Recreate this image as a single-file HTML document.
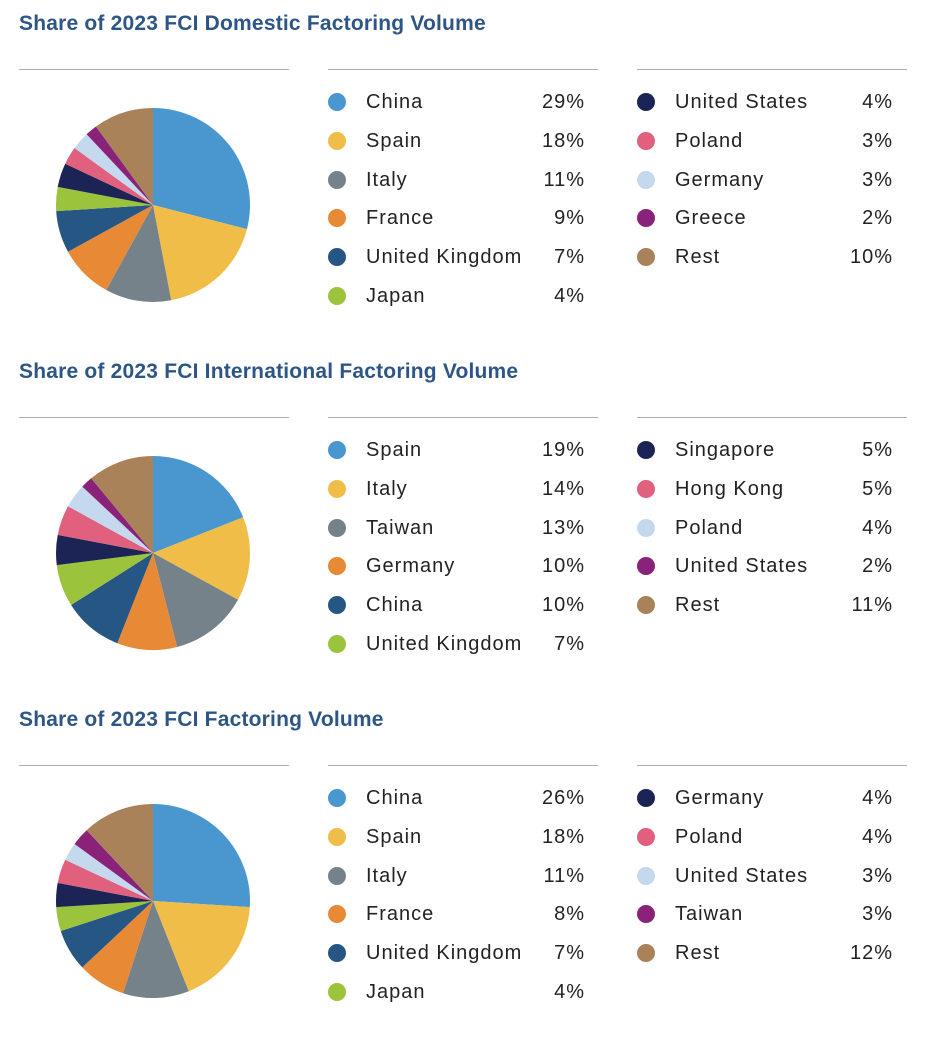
<!DOCTYPE html>
<html><head><meta charset="utf-8">
<style>
body{margin:0;background:#fff;width:925px;height:1024px;overflow:hidden;font-family:"Liberation Sans",sans-serif;position:relative}
.sec{position:absolute;left:0;width:925px;height:348px}
.title{position:absolute;left:19px;top:12px;font-size:21px;font-weight:bold;color:#2d5686;letter-spacing:0.2px}
.rule{position:absolute;top:69px;height:1px;width:270px;background:#a8b0b8}
.pie{position:absolute;left:0;top:0}
.row{position:absolute;height:24px;font-size:20px;color:#222;letter-spacing:1px}
.dot{position:absolute;width:18px;height:18px;border-radius:50%;top:2px}
.nm{position:absolute;top:0;white-space:nowrap}
.pc{position:absolute;top:0;text-align:right;width:80px}
</style></head><body>
<div id="root"></div>
<script>
const titles=["Share of 2023 FCI Domestic Factoring Volume","Share of 2023 FCI International Factoring Volume","Share of 2023 FCI Factoring Volume"];
const labels1=["China","Spain","Italy","France","United Kingdom","Japan","United States","Poland","Germany","Greece","Rest"];
const values1=[29,18,11,9,7,4,4,3,3,2,10];
const labels2=["Spain","Italy","Taiwan","Germany","China","United Kingdom","Singapore","Hong Kong","Poland","United States","Rest"];
const values2=[19,14,13,10,10,7,5,5,4,2,11];
const labels3=["China","Spain","Italy","France","United Kingdom","Japan","Germany","Poland","United States","Taiwan","Rest"];
const values3=[26,18,11,8,7,4,4,4,3,3,12];
const colors=["#4a97cf","#f0bd48","#75828a","#e88a35","#265684","#9bc43c","#1c2455","#e0607e","#c5d9ee","#8b2279","#a9825a"];
const allLabels=[labels1,labels2,labels3];
const allValues=[values1,values2,values3];
const root=document.getElementById('root');
const NS="http://www.w3.org/2000/svg";
for(let s=0;s<3;s++){
  const sec=document.createElement('div');sec.className='sec';sec.style.top=(s*348)+'px';
  
  
  root.appendChild(sec);
  const t=document.createElement('div');t.className='title';t.textContent=titles[s];
  
  
  sec.appendChild(t);
  [19,328,637].forEach(x=>{const r=document.createElement('div');r.className='rule';r.style.left=x+'px';
    
    
    sec.appendChild(r);});
  const svg=document.createElementNS(NS,'svg');svg.setAttribute('class','pie');svg.setAttribute('width','310');svg.setAttribute('height','348');
  
  
  sec.appendChild(svg);
  const vals=allValues[s],labs=allLabels[s];
  const total=vals.reduce((a,b)=>a+b,0);
  const cx=153,cy=205,R=97;
  let acc=0;
  vals.forEach((v,i)=>{
    const a0=acc/total*2*Math.PI;acc+=v;const a1=acc/total*2*Math.PI;
    const x0=cx+R*Math.sin(a0),y0=cy-R*Math.cos(a0),x1=cx+R*Math.sin(a1),y1=cy-R*Math.cos(a1);
    const p=document.createElementNS(NS,'path');
    p.setAttribute('d',`M${cx},${cy}L${x0},${y0}A${R},${R} 0 ${(a1-a0)>Math.PI?1:0} 1 ${x1},${y1}Z`);
    p.setAttribute('fill',colors[i]);
    
    
    svg.appendChild(p);
  });
  labs.forEach((l,i)=>{
    const col=i<6?0:1,k=i<6?i:i-6;
    const bx=col?637:328;
    const row=document.createElement('div');row.className='row';
    row.style.left=bx+'px';row.style.top=(91+k*38.8)+'px';row.style.width='270px';
    
    
    const d=document.createElement('div');d.className='dot';d.style.left='0px';d.style.background=colors[i];
    
    
    const n=document.createElement('div');n.className='nm';n.style.left='38px';n.textContent=l;
    
    
    const pc=document.createElement('div');pc.className='pc';pc.style.left=(col?176:177)+'px';pc.textContent=vals[i]+'%';
    
    
    row.appendChild(d);row.appendChild(n);row.appendChild(pc);sec.appendChild(row);
  });
}
</script>
</body></html>
